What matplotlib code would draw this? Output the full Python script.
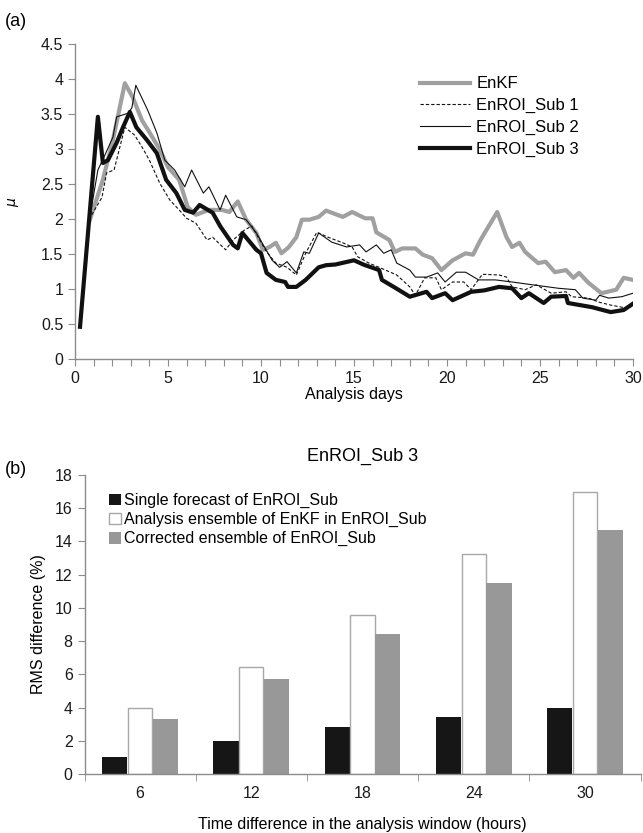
import matplotlib.pyplot as plt
import numpy as np

plt.rcParams['font.family'] = ['Liberation Sans', 'DejaVu Sans']

# (a) mu over analysis days
enkf_x = [0.8, 1.5, 2.04, 2.68, 3.1, 3.6, 4.0, 4.56, 5.0, 5.6, 6.06, 6.5, 7.2, 7.9, 8.3,
          8.75, 9.2, 9.75, 10.1, 10.46, 10.8, 11.1, 11.5, 11.9, 12.2, 12.6, 13.1, 13.5,
          14.4, 14.9, 15.6, 16.0, 16.2, 16.9, 17.2, 17.6, 18.3, 18.7, 19.2, 19.7, 20.3,
          21.0, 21.4, 21.8, 22.7, 23.2, 23.5, 23.9, 24.2, 24.9, 25.3, 25.8, 26.4, 26.8,
          27.1, 27.6, 28.3, 29.1, 29.5, 30.0]
enkf_y = [1.99, 2.56, 3.13, 3.94, 3.74, 3.41, 3.24, 2.99, 2.74, 2.56, 2.17, 2.06, 2.13, 2.13,
          2.1, 2.25, 1.99, 1.8, 1.56, 1.6, 1.66, 1.51, 1.6, 1.74, 1.99, 1.99, 2.03, 2.12,
          2.03, 2.1, 2.01, 2.01, 1.81, 1.7, 1.53, 1.58, 1.58, 1.49, 1.44, 1.27, 1.41,
          1.51, 1.49, 1.7, 2.1, 1.74, 1.6, 1.66, 1.53, 1.37, 1.39, 1.24, 1.27, 1.16,
          1.23, 1.09, 0.94, 0.99, 1.16, 1.13]

sub1_x = [0.9, 1.45, 1.7, 2.1, 2.68, 3.2, 3.6, 4.0, 4.56, 5.1, 5.6, 6.0, 6.5, 7.1, 7.4, 8.1,
          8.5, 9.1, 9.5, 10.3, 10.8, 11.4, 11.9, 12.4, 13.0, 13.7, 14.4, 14.9, 15.2, 15.8,
          16.35, 17.3, 18.0, 18.3, 18.8, 19.4, 19.7, 20.3, 20.9, 21.3, 21.9, 22.8, 23.2,
          23.5, 24.2, 24.8, 25.6, 26.4, 26.7, 27.6, 28.2, 28.8, 29.6, 30.0]
sub1_y = [2.06, 2.31, 2.66, 2.7, 3.31, 3.2, 3.03, 2.84, 2.51, 2.27, 2.13, 2.01, 1.94, 1.7,
          1.74, 1.56, 1.7, 1.84, 1.9, 1.53, 1.37, 1.31, 1.2, 1.51, 1.81, 1.73, 1.66, 1.6,
          1.46, 1.37, 1.31, 1.2, 1.03, 0.91, 1.16, 1.16, 0.99, 1.1, 1.1, 0.99, 1.21, 1.2,
          1.17, 1.03, 0.99, 1.06, 0.94, 0.96, 0.89, 0.87, 0.81, 0.77, 0.73, 0.77]

sub2_x = [0.8, 1.23, 1.5, 2.04, 2.24, 2.85, 3.06, 3.27, 3.9, 4.4, 4.83, 5.36, 5.9, 6.27,
          6.9, 7.2, 7.8, 8.1, 8.7, 9.2, 9.75, 10.6, 11.0, 11.4, 11.9, 12.3, 12.6, 13.1,
          13.8, 14.6, 15.3, 15.65, 16.2, 16.6, 17.0, 17.3, 18.0, 18.3, 18.9, 19.5, 19.9,
          20.5, 21.0, 21.7, 22.6, 23.5, 24.6, 26.0, 26.9, 27.3, 28.0, 28.2, 28.7, 29.4, 30.0]
sub2_y = [2.03, 2.7, 2.85, 3.17, 3.46, 3.51, 3.59, 3.91, 3.56, 3.23, 2.84, 2.7, 2.46, 2.7,
          2.37, 2.46, 2.13, 2.34, 2.03, 1.99, 1.8, 1.41, 1.31, 1.39, 1.23, 1.53, 1.51, 1.8,
          1.67, 1.6, 1.63, 1.53, 1.63, 1.51, 1.56, 1.37, 1.27, 1.17, 1.17, 1.23, 1.1,
          1.24, 1.24, 1.13, 1.13, 1.1, 1.06, 1.01, 0.99, 0.87, 0.84, 0.91, 0.87, 0.89, 0.94]

sub3_x = [0.27, 1.23, 1.5, 1.77, 2.24, 2.58, 2.95, 3.3, 3.86, 4.4, 4.9, 5.45, 5.9, 6.35,
          6.7, 7.4, 7.8, 8.5, 8.75, 9.0, 9.75, 10.0, 10.3, 10.8, 11.3, 11.45, 11.9, 12.4,
          13.1, 13.5, 14.0, 14.5, 15.0, 15.5, 16.35, 16.5, 17.2, 18.0, 18.9, 19.2, 19.9,
          20.3, 21.3, 22.0, 22.8, 23.5, 24.0, 24.4, 25.2, 25.6, 26.4, 26.5, 27.8, 28.8,
          29.5, 30.0]
sub3_y = [0.46, 3.46, 2.8, 2.84, 3.09, 3.31, 3.53, 3.31, 3.13, 2.94, 2.56, 2.37, 2.13, 2.09,
          2.2, 2.09, 1.9, 1.63, 1.58, 1.8, 1.56, 1.51, 1.23, 1.13, 1.1, 1.03, 1.03, 1.13,
          1.31, 1.34, 1.35, 1.38, 1.41, 1.35, 1.27, 1.13, 1.02, 0.89, 0.96, 0.87, 0.94,
          0.84, 0.96, 0.98, 1.03, 1.01, 0.87, 0.94, 0.8, 0.89, 0.9, 0.8, 0.74, 0.67,
          0.7, 0.79]

# (b) RMS difference per time window
hours = ['6', '12', '18', '24', '30']
single_fc = [1.0, 2.0, 2.8, 3.45, 3.95]
enkf_ens = [4.0, 6.45, 9.6, 13.25, 17.0]
corrected = [3.3, 5.7, 8.4, 11.5, 14.7]

W, H = 643, 833
fig = plt.figure(figsize=(W / 100, H / 100), dpi=100)
spine_c = '#8c8c8c'

ax1 = fig.add_axes([75 / W, 1 - 359 / H, 558 / W, 315 / H])
ax1.plot(enkf_x, enkf_y, color='#a0a0a0', lw=3.0, label='EnKF', solid_joinstyle='round')
ax1.plot(sub1_x, sub1_y, color='#111111', lw=0.8, ls=(0, (3, 1.8)), label='EnROI_Sub 1')
ax1.plot(sub2_x, sub2_y, color='#111111', lw=0.8, label='EnROI_Sub 2')
ax1.plot(sub3_x, sub3_y, color='#111111', lw=3.0, label='EnROI_Sub 3', solid_joinstyle='round')
ax1.set_xlim(0, 30)
ax1.set_ylim(0, 4.5)
ax1.set_xticks(np.arange(0, 31, 1))
ax1.set_xticklabels([str(d) if d % 5 == 0 else '' for d in range(31)])
ax1.set_yticks(np.arange(0, 4.51, 0.5))
ax1.set_yticklabels(['0', '0.5', '1', '1.5', '2', '2.5', '3', '3.5', '4', '4.5'])
ax1.set_xlabel('Analysis days', fontsize=11.5, labelpad=1)
ax1.set_ylabel(r'$\mu$', fontsize=10, labelpad=14)
leg = ax1.legend(loc='upper left', bbox_to_anchor=(412 / W, 1 - 68 / H),
                 bbox_transform=fig.transFigure, frameon=False, fontsize=12,
                 handlelength=3.0, handletextpad=0.35, labelspacing=0.4, borderpad=0)

ax2 = fig.add_axes([84.5 / W, 1 - 774 / H, 556 / W, 299 / H])
pos = np.arange(len(hours))
bw = 0.227
ax2.bar(pos - bw, single_fc, bw, color='#161616', label='Single forecast of EnROI_Sub')
ax2.bar(pos, enkf_ens, bw * 0.96, color='white', edgecolor='#a8a8a8', lw=1.0,
        label='Analysis ensemble of EnKF in EnROI_Sub')
ax2.bar(pos + bw, corrected, bw, color='#989898', label='Corrected ensemble of EnROI_Sub')
ax2.set_xlim(-0.5, len(hours) - 0.5)
ax2.set_ylim(0, 18)
ax2.set_yticks(np.arange(0, 19, 2))
ax2.set_xticks(pos)
ax2.set_xticklabels(hours)
ax2.set_xticks(np.arange(-0.5, len(hours), 1), minor=True)
ax2.tick_params(axis='x', which='major', length=0, pad=9)
ax2.tick_params(axis='x', which='minor', length=5, color=spine_c)
ax2.set_xlabel('Time difference in the analysis window (hours)', fontsize=11.5, labelpad=11)
ax2.set_ylabel('RMS difference (%)', fontsize=11.5, labelpad=6)
ax2.set_title('EnROI_Sub 3', fontsize=13, pad=10)
ax2.legend(loc='upper left', bbox_to_anchor=(101 / W, 1 - 485 / H),
           bbox_transform=fig.transFigure, frameon=False, fontsize=11.5,
           handlelength=0.75, handleheight=0.75, handletextpad=0.2,
           labelspacing=0.25, borderpad=0)

for ax in (ax1, ax2):
    for s in ('top', 'right'):
        ax.spines[s].set_visible(False)
    for s in ('left', 'bottom'):
        ax.spines[s].set_color(spine_c)
        ax.spines[s].set_linewidth(1.0)
    ax.tick_params(axis='both', labelsize=11.5, color=spine_c, labelcolor='#1a1a1a')
ax1.tick_params(axis='both', length=5)
ax2.tick_params(axis='y', length=5)

fig.text(5 / W, 1 - 22 / H, '(a)', fontsize=13, va='center')
fig.text(5 / W, 1 - 470 / H, '(b)', fontsize=13, va='center')

fig.savefig('out.png', dpi=100)
